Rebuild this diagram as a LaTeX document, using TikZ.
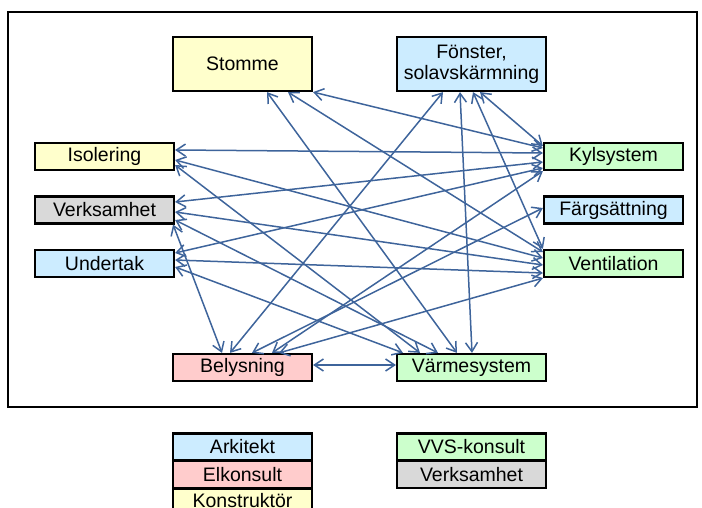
\documentclass[tikz,border=0pt]{standalone}
\usepackage{fontspec}
\setmainfont{Liberation Sans}
\usetikzlibrary{arrows.meta}
\definecolor{linkblue}{RGB}{62,100,155}
\definecolor{fillblue}{RGB}{204,236,255}
\definecolor{fillyellow}{RGB}{255,255,204}
\definecolor{fillgreen}{RGB}{204,255,204}
\definecolor{fillpink}{RGB}{255,204,204}
\definecolor{fillgray}{RGB}{217,217,217}
\begin{document}
\begin{tikzpicture}[x=1pt,y=-1pt,
  box/.style={draw=black,line width=2.2pt,inner sep=0pt,minimum height=27pt,
    minimum width=139pt,align=center,font=\fontsize{19.5}{21}\selectfont},
  widebox/.style={box,minimum width=149pt},
  tallbox/.style={minimum height=54pt},
  link/.style={draw=linkblue,line width=1.5pt,
    {Straight Barb[length=9pt,width=12pt]}-{Straight Barb[length=9pt,width=12pt]}}]
\path[use as bounding box,clip] (0,0) rectangle (702,508);

% outer frame
\draw[line width=2pt] (8,12) rectangle (697,407);

% topic boxes
\node[box,tallbox,fill=fillyellow] (stomme) at (242.5,64) {Stomme};
\node[widebox,tallbox,fill=fillblue] (fonster) at (471.5,64) {Fönster,\\solavskärmning};
\node[box,fill=fillyellow] (isolering) at (104.5,156.5) {Isolering};
\node[box,fill=fillgray] (verks) at (104.5,210) {Verksamhet};
\node[box,fill=fillblue] (undertak) at (104.5,263.5) {Undertak};
\node[box,fill=fillgreen] (kyl) at (613.5,156.5) {Kylsystem};
\node[box,fill=fillblue] (farg) at (613.5,210) {Färgsättning};
\node[box,fill=fillgreen] (vent) at (613.5,263.5) {Ventilation};
\node[box,fill=fillpink] (belys) at (242.5,367.5) {Belysning};
\node[widebox,fill=fillgreen] (varme) at (471.5,367.5) {Värmesystem};

% dependencies
\draw[link] ([xshift=24.5]stomme.south) -- ([xshift=-14.5]varme.north);
\draw[link] ([xshift=45.5]stomme.south) -- ([yshift=11.5]vent.west);
\draw[link] (stomme.south east) -- ([yshift=8.5]kyl.west);
\draw[link] ([xshift=-28.5]fonster.south) -- ([xshift=-12.5]belys.north);
\draw[link] ([xshift=-11.5]fonster.south) -- ([xshift=0.5]varme.north);
\draw[link] ([xshift=1.5]fonster.south) -- (vent.north west);
\draw[link] ([xshift=8.5]fonster.south) -- ([yshift=10.5]kyl.west);
\draw[link] ([yshift=6.5]isolering.east) -- ([yshift=3.5]kyl.west);
\draw[link] ([yshift=-3.5]isolering.east) -- ([yshift=5.5]vent.west);
\draw[link] ([yshift=-8.5]isolering.east) -- ([xshift=-51.5]varme.north);
\draw[link] ([yshift=8]verks.east) -- ([yshift=-5.5]kyl.west);
\draw[link] ([yshift=-2]verks.east) -- ([yshift=-1.5]vent.west);
\draw[link] ([yshift=-10]verks.east) -- ([xshift=-33.5]varme.north);
\draw[link] ([xshift=-2]verks.south east) -- ([xshift=-20.5]belys.north);
\draw[link] ([yshift=10.5]undertak.east) -- ([yshift=-11.5]kyl.west);
\draw[link] ([yshift=3.5]undertak.east) -- ([yshift=-9.5]vent.west);
\draw[link] ([yshift=-3.5]undertak.east) -- ([xshift=-68.5]varme.north);
\draw[link] ([xshift=9.5]belys.north) -- ([yshift=2]farg.west);
\draw[link] ([xshift=29.5]belys.north) -- (kyl.south west);
\draw[link] ([xshift=36.5]belys.north) -- (vent.south west);
\draw[link] ([yshift=2.5]belys.east) -- ([yshift=2.5]varme.west);

% legend
\node[box,fill=fillblue] (ark) at (242.5,447) {Arkitekt};
\node[box,fill=fillpink] (elk) at (242.5,474.5) {Elkonsult};
\node[box,fill=fillyellow] (kons) at (242.5,502) {\raisebox{2.5pt}{Konstruktör}};
\node[widebox,fill=fillgreen] (vvs) at (471.5,447) {VVS-konsult};
\node[widebox,fill=fillgray] (verksleg) at (471.5,474.5) {Verksamhet};
\end{tikzpicture}
\end{document}
